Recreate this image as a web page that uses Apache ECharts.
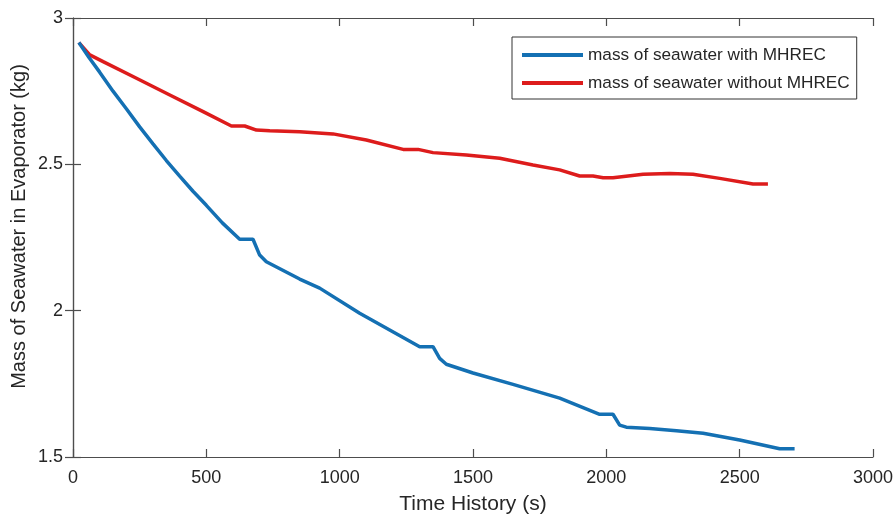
<!DOCTYPE html>
<html>
<head>
<meta charset="utf-8">
<script src="https://cdn.jsdelivr.net/npm/echarts@6/dist/echarts.min.js"></script>
<style>
html,body{margin:0;padding:0;background:#fff;}
#chart{width:895px;height:516px;}
</style>
</head>
<body>
<div id="chart"></div>
<script>
// Data
var withTime = [22, 60, 100, 150, 200, 250, 300, 350, 400, 450, 500, 560, 625, 675, 700, 725, 850, 925, 1075, 1300, 1350, 1375, 1400, 1500, 1650, 1825, 1975, 2025, 2050, 2075, 2163, 2263, 2363, 2500, 2650, 2706];
var withMass = [2.916, 2.865, 2.815, 2.75, 2.69, 2.628, 2.57, 2.513, 2.46, 2.408, 2.36, 2.30, 2.244, 2.244, 2.19, 2.167, 2.108, 2.077, 1.991, 1.877, 1.877, 1.837, 1.817, 1.787, 1.748, 1.701, 1.646, 1.646, 1.609, 1.602, 1.597, 1.590, 1.581, 1.558, 1.528, 1.528];

var withoutTime = [22, 63, 113, 238, 363, 488, 594, 644, 688, 738, 850, 975, 1100, 1238, 1294, 1350, 1475, 1600, 1725, 1825, 1900, 1950, 1988, 2025, 2138, 2238, 2325, 2425, 2550, 2606];
var withoutMass = [2.916, 2.874, 2.851, 2.794, 2.737, 2.680, 2.631, 2.631, 2.617, 2.615, 2.611, 2.604, 2.583, 2.551, 2.551, 2.540, 2.532, 2.521, 2.498, 2.481, 2.460, 2.460, 2.454, 2.454, 2.466, 2.469, 2.466, 2.452, 2.433, 2.433];

var seriesNames = ['mass of seawater with MHREC', 'mass of seawater without MHREC'];
var xTicks = [0, 500, 1000, 1500, 2000, 2500, 3000];
var yTicks = [1.5, 2, 2.5, 3];

function pairs(xs, ys) { return xs.map(function (x, i) { return [x, ys[i]]; }); }

var FONT = 'Liberation Sans, Arial, Helvetica, sans-serif';
var TXT = '#262626';
var AX = '#4d4d4d';

var chart = echarts.init(document.getElementById('chart'), null, {renderer: 'canvas'});
var baseAxisLine = {show: true, lineStyle: {color: AX, width: 1.2}};
var tickIn = {show: true, inside: true, length: 8, lineStyle: {color: AX, width: 1.2}};
var plain = function (v) { return String(v); };

chart.setOption({
  animation: false,
  backgroundColor: '#ffffff',
  grid: {left: 73, right: 22, top: 18, bottom: 59, containLabel: false, outerBoundsMode: 'none'},
  legend: {
    orient: 'vertical',
    left: 512,
    top: 37,
    padding: [9, 7, 7, 10],
    itemGap: 10,
    itemWidth: 61,
    itemHeight: 4,
    icon: 'rect',
    borderColor: '#333',
    borderWidth: 1,
    backgroundColor: '#fff',
    textStyle: {fontFamily: FONT, fontSize: 17.2, color: TXT, lineHeight: 18},
    data: seriesNames
  },
  xAxis: [{
    type: 'value', min: xTicks[0], max: xTicks[xTicks.length - 1], interval: 500,
    name: 'Time History (s)', nameLocation: 'middle', nameGap: 37, nameMoveOverlap: false,
    nameTextStyle: {fontFamily: FONT, fontSize: 21, color: TXT},
    axisLine: baseAxisLine, axisTick: tickIn, splitLine: {show: false},
    axisLabel: {fontFamily: FONT, fontSize: 18, color: TXT, margin: 12, formatter: plain}
  }, {
    type: 'value', position: 'top', min: 0, max: 3000, interval: 500,
    axisLine: baseAxisLine, axisTick: tickIn, axisLabel: {show: false}, splitLine: {show: false}
  }],
  yAxis: [{
    type: 'value', min: yTicks[0], max: yTicks[yTicks.length - 1], interval: 0.5,
    name: 'Mass of Seawater in Evaporator (kg)', nameLocation: 'middle', nameGap: 44, nameMoveOverlap: false,
    nameTextStyle: {fontFamily: FONT, fontSize: 20, color: TXT, padding: [0, 0, 0, 22]},
    axisLine: baseAxisLine, axisTick: tickIn, splitLine: {show: false},
    axisLabel: {fontFamily: FONT, fontSize: 18, color: TXT, margin: 10, formatter: plain}
  }, {
    type: 'value', position: 'right', min: 1.5, max: 3, interval: 0.5,
    axisLine: baseAxisLine, axisTick: tickIn, axisLabel: {show: false}, splitLine: {show: false}
  }],
  series: [{
    name: seriesNames[0], type: 'line', showSymbol: false, symbol: 'none',
    lineStyle: {color: '#1470B3', width: 3.5}, itemStyle: {color: '#1470B3'},
    data: pairs(withTime, withMass), z: 3
  }, {
    name: seriesNames[1], type: 'line', showSymbol: false, symbol: 'none',
    lineStyle: {color: '#DD1C1C', width: 3.5}, itemStyle: {color: '#DD1C1C'},
    data: pairs(withoutTime, withoutMass), z: 2
  }]
});
</script>
</body>
</html>
